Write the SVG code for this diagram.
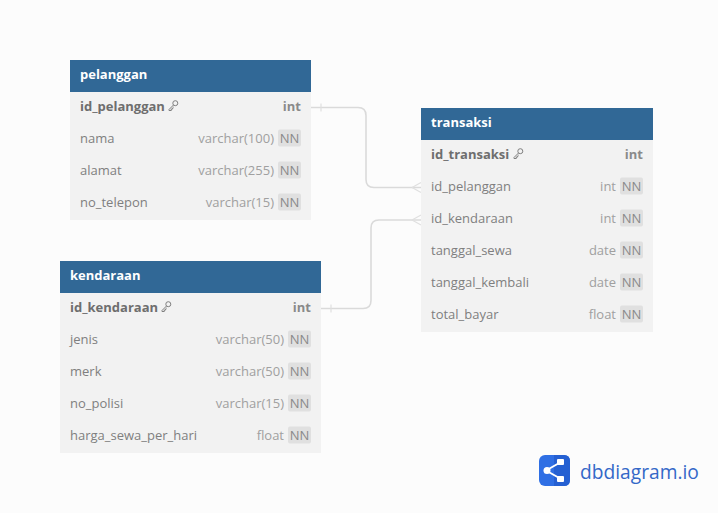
<svg xmlns="http://www.w3.org/2000/svg" width="718" height="513" viewBox="0 0 718 513">
<style>
text{font-family:"Open Sans","Noto Sans",sans-serif;font-size:13px;fill:#7f7f7f}
.hd{fill:#316896}
.body{fill:#f2f2f2}
.title{font-weight:700;fill:#fff}
.pk{font-weight:700;fill:#6e6e6e}
.pt{font-weight:700;fill:#8a8a8a}
.ty{fill:#a0a0a0;text-anchor:end}
.r{text-anchor:end}
.nn{fill:#e0e0e0}
.nt{fill:#8a8a8a;text-anchor:middle}
.c{fill:none;stroke:#dadada;stroke-width:1.6}
.t{fill:none;stroke:#e0e0e0;stroke-width:1.2}
.key{fill:none;stroke:#7f7f7f;stroke-width:1}
</style>
<defs>
<g id="k"><circle cx="2.800" cy="-2.800" r="2.500" class="key"/><path class="key" d="M1-1L-3.500 3.500V4.500H-1.200V3H.2V1.800L1.200 1"/></g>
<g id="b"><rect x="-23" y="-8.500" width="23" height="17" rx="2" class="nn"/><text x="-11.500" y="4.500" class="nt">NN</text></g>
</defs>
<rect width="718" height="513" fill="#fcfcfc"/>
<g id="connectors">
<path class="c" d="M311 107.500H358Q366 107.500 366 115.500V179.500Q366 187.500 374 187.500H421"/>
<path class="c" d="M321 308.500H363Q371 308.500 371 300.500V228Q371 220 379 220H421"/>
<path class="t" d="M321 103.500V111.500M331 304.500V312.500M412 187.500L421 182.500M412 187.500L421 192.500M412 220L421 215M412 220L421 225"/>
</g>
<g id="pelanggan">
<rect x="70" y="60" width="241" height="160" class="body"/><rect x="70" y="60" width="241" height="32" class="hd"/>
<text x="80" y="79" class="title">pelanggan</text>
<text x="80" y="111" class="pk">id_pelanggan</text><use href="#k" x="172.500" y="106"/><text x="301" y="111" class="pt r">int</text>
<text x="80" y="143">nama</text><text x="274" y="143" class="ty">varchar(100)</text><use href="#b" x="301" y="138"/>
<text x="80" y="175">alamat</text><text x="274" y="175" class="ty">varchar(255)</text><use href="#b" x="301" y="170"/>
<text x="80" y="207">no_telepon</text><text x="274" y="207" class="ty">varchar(15)</text><use href="#b" x="301" y="202"/>
</g>
<g id="kendaraan">
<rect x="60" y="261" width="261" height="192" class="body"/><rect x="60" y="261" width="261" height="32" class="hd"/>
<text x="70" y="280" class="title">kendaraan</text>
<text x="70" y="312" class="pk">id_kendaraan</text><use href="#k" x="165.500" y="307"/><text x="311" y="312" class="pt r">int</text>
<text x="70" y="344">jenis</text><text x="284" y="344" class="ty">varchar(50)</text><use href="#b" x="311" y="339"/>
<text x="70" y="376">merk</text><text x="284" y="376" class="ty">varchar(50)</text><use href="#b" x="311" y="371"/>
<text x="70" y="408">no_polisi</text><text x="284" y="408" class="ty">varchar(15)</text><use href="#b" x="311" y="403"/>
<text x="70" y="440">harga_sewa_per_hari</text><text x="284" y="440" class="ty">float</text><use href="#b" x="311" y="435"/>
</g>
<g id="transaksi">
<rect x="421" y="108" width="232" height="224" class="body"/><rect x="421" y="108" width="232" height="32" class="hd"/>
<text x="431" y="127" class="title">transaksi</text>
<text x="431" y="159" class="pk">id_transaksi</text><use href="#k" x="517.500" y="154"/><text x="643" y="159" class="pt r">int</text>
<text x="431" y="191">id_pelanggan</text><text x="616" y="191" class="ty">int</text><use href="#b" x="643" y="186"/>
<text x="431" y="223">id_kendaraan</text><text x="616" y="223" class="ty">int</text><use href="#b" x="643" y="218"/>
<text x="431" y="255">tanggal_sewa</text><text x="616" y="255" class="ty">date</text><use href="#b" x="643" y="250"/>
<text x="431" y="287">tanggal_kembali</text><text x="616" y="287" class="ty">date</text><use href="#b" x="643" y="282"/>
<text x="431" y="319">total_bayar</text><text x="616" y="319" class="ty">float</text><use href="#b" x="643" y="314"/>
</g>
<g id="logo">
<rect x="539" y="455" width="31" height="31" rx="6" fill="#2f6fe4"/>
<path d="M554 455H564Q570 455 570 461V480Q570 486 564 486H554Z" fill="#2560d2"/>
<path d="M546 470.500L561 462M546 470.500L561 479" stroke="#fff" stroke-width="2" fill="none"/>
<circle cx="547" cy="470.500" r="3.500" fill="#fff"/><rect x="557" y="459" width="7" height="6" rx="1" fill="#fff"/><rect x="557" y="476" width="7" height="6" rx="1" fill="#fff"/>
<text x="580" y="478.500" style="font-size:19.200px;fill:#3468c8">dbdiagram.io</text>
</g>
</svg>
